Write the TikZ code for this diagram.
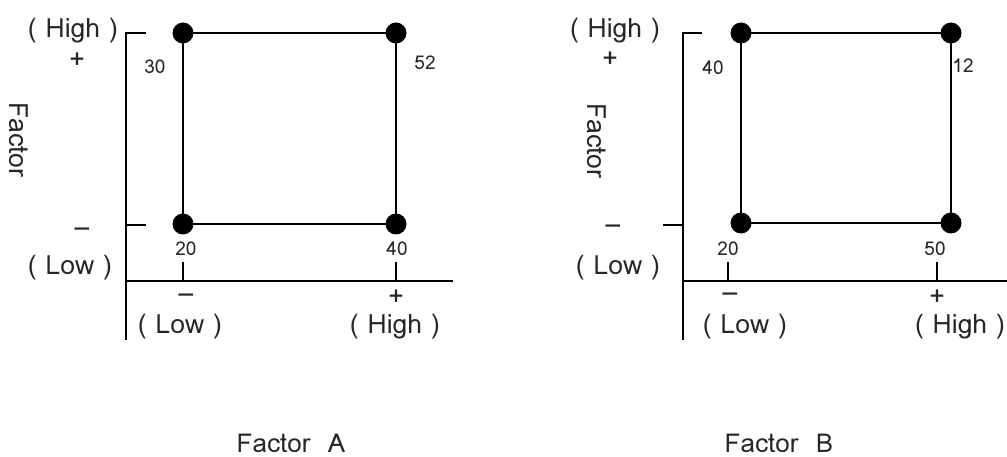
\documentclass[tikz,border=0pt]{standalone}
\usepackage{fontspec}
\setmainfont{Loma}
\begin{document}
\begin{tikzpicture}[x=1pt,y=-1pt,
  ln/.style={line width=2pt,line cap=butt},
  dot/.style={circle,fill=black,inner sep=0pt,minimum size=21pt},
  big/.style={font=\fontsize{26.5}{28}\selectfont,inner sep=0pt,text=black!85},
  num/.style={font=\fontsize{19}{21}\selectfont,inner sep=0pt,text=black!85},
  ttl/.style={font=\fontsize{26}{28}\selectfont,inner sep=0pt,text=black!85}]
\useasboundingbox (0,0) rectangle (1007,457);
% ---------- left panel ----------
\coordinate (la0) at (126,340);
\coordinate (la1) at (126,33);
\coordinate (la2) at (146,33);
\coordinate (lb1) at (126,225);
\coordinate (lb2) at (146,225);
\coordinate (lh0) at (126,281);
\coordinate (lh1) at (453,281);
\coordinate (lt1a) at (183,262);
\coordinate (lt1b) at (183,281);
\coordinate (lt2a) at (396,262);
\coordinate (lt2b) at (396,281);
\draw[ln] (la0) -- (la1) -- (la2);
\draw[ln] (lb1) -- (lb2);
\draw[ln] (lh0) -- (lh1);
\draw[ln] (lt1a) -- (lt1b);
\draw[ln] (lt2a) -- (lt2b);
\node[dot] (L1) at (183,33) {};
\node[dot] (L2) at (396,33) {};
\node[dot] (L3) at (183,224) {};
\node[dot] (L4) at (396,224) {};
\draw[ln] (L1.center) -- (L2.center) -- (L4.center) -- (L3.center) -- cycle;
\node[big] (lyh) at (73,31) {( High )};
\node[big] (lyp) at (77,61) {+};
\node[big] (lym) at (82,233) {--};
\node[big] (lyl) at (70,268) {( Low )};
\node[num] (l30) at (155,67) {30};
\node[num] (l52) at (425,63) {52};
\node[num] (l20) at (186,249) {20};
\node[num] (l40) at (397,249) {40};
\node[big] (lxm) at (186,299) {--};
\node[big] (lxl) at (180,327) {( Low )};
\node[big] (lxp) at (396,298) {+};
\node[big] (lxh) at (395,327) {( High )};
\node[big,rotate=-90] (lfac) at (18.5,140) {Factor};
\node[ttl] (lttl) at (291,443) {Factor\ \ A};
% ---------- right panel ----------
\coordinate (ra0) at (683,340);
\coordinate (ra1) at (683,33);
\coordinate (ra2) at (702,33);
\coordinate (rb1) at (663,225);
\coordinate (rb2) at (683,225);
\coordinate (rh0) at (683,281);
\coordinate (rh1) at (1007,281);
\coordinate (rt1a) at (728,262);
\coordinate (rt1b) at (728,281);
\coordinate (rt2a) at (937,262);
\coordinate (rt2b) at (937,281);
\draw[ln] (ra0) -- (ra1) -- (ra2);
\draw[ln] (rb1) -- (rb2);
\draw[ln] (rh0) -- (rh1);
\draw[ln] (rt1a) -- (rt1b);
\draw[ln] (rt2a) -- (rt2b);
\node[dot] (R1) at (741,33) {};
\node[dot] (R2) at (951,33) {};
\node[dot] (R3) at (741,223) {};
\node[dot] (R4) at (951,223) {};
\draw[ln] (R1.center) -- (R2.center) -- (R4.center) -- (R3.center) -- cycle;
\node[big] (ryh) at (615,31) {( High )};
\node[big] (ryp) at (610,60) {+};
\node[big] (rym) at (613,230) {--};
\node[big] (ryl) at (618,268) {( Low )};
\node[num] (r40) at (713,68) {40};
\node[num] (r12) at (963,66) {12};
\node[num] (r20) at (728,249) {20};
\node[num] (r50) at (935,249) {50};
\node[big] (rxm) at (730,298) {--};
\node[big] (rxl) at (745,327) {( Low )};
\node[big] (rxp) at (937,298) {+};
\node[big] (rxh) at (960,327) {( High )};
\node[big,rotate=-90] (rfac) at (597,141) {Factor};
\node[ttl] (rttl) at (779,443) {Factor\ \ B};
\end{tikzpicture}
\end{document}
